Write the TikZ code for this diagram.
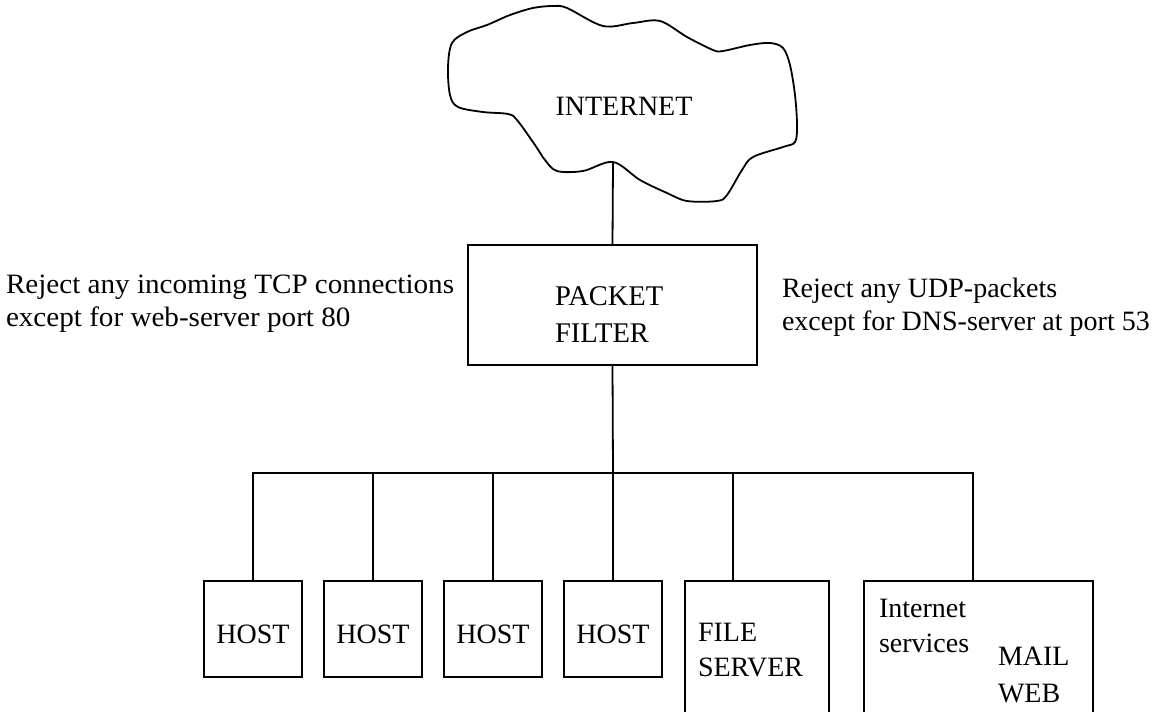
\documentclass[tikz,border=0pt]{standalone}
\usepackage{fontspec}
\setmainfont{Liberation Serif}
\newfontfamily\ruleserif[FakeStretch=1.04]{Liberation Serif}
\begin{document}
\begin{tikzpicture}[x=1pt, y=-1pt, line width=1.8pt,
  every node/.style={inner sep=0pt, outer sep=0pt},
  labeltext/.style={anchor=north west, align=left, font=\fontsize{28}{#1}\selectfont},
  labeltext/.default=35,
  frame/.style={draw, rectangle, anchor=north west},
  hostbox/.style={frame, minimum width=98pt, minimum height=96pt,
    text height=28pt, text depth=0pt, font=\fontsize{28}{33}\selectfont}]
\clip (0,0) rectangle (1163,712);

% the Internet cloud
\draw plot[smooth cycle, tension=0.55] coordinates {
  (553,6) (567,8) (603,26) (633,23) (660,21) (687,37) (713,50) (723,51)
  (750,45) (770,43) (783,48) (790,65) (795,95) (797,125) (795,142) (783,147)
  (753,157) (742,170) (727,195) (717,201) (687,201) (667,193) (640,180)
  (613,162) (583,171) (557,171) (545,160) (535,145) (517,120) (508,114)
  (483,112) (458,107) (450,95) (448,67) (452,43) (467,32) (487,25)
  (510,15) (533,8)};
\node[anchor=base, font=\fontsize{28}{33}\selectfont] (inet) at (624,115) {INTERNET};
\coordinate (cloudfoot) at (613,162);

% packet filter and its rules
\node[frame, minimum width=289pt, minimum height=120pt] (pf) at (468,245) {};
\node[labeltext=37, font=\fontsize{28.5}{37}\selectfont] (pflabel) at (555,287) {PACKET\\FILTER};
\node[labeltext=33, font=\ruleserif\fontsize{28}{33}\selectfont] (tcprule) at (6,275) {Reject any incoming TCP connections\\except for web-server port 80};
\node[labeltext=33] (udprule) at (782,278) {Reject any UDP-packets\\except for DNS-server at port 53};

% hosts and servers
\node[hostbox] (h1) at (204,581) {HOST};
\node[hostbox] (h2) at (324,581) {HOST};
\node[hostbox] (h3) at (444,581) {HOST};
\node[hostbox] (h4) at (564,581) {HOST};
\node[frame, minimum width=144pt, minimum height=160pt] (fs) at (685,581) {};
\node[labeltext=35] (fslabel) at (698,623) {FILE\\SERVER};
\node[frame, minimum width=229pt, minimum height=160pt] (ms) at (864,581) {};
\node[labeltext=35] (mslabel) at (879,599) {Internet\\services};
\node[labeltext=37] (svclabel) at (998,647) {MAIL\\WEB};
\coordinate (fstap) at (733,581);
\coordinate (mstap) at (973,581);

% network wiring
\coordinate (bus) at (613,473);
\draw (cloudfoot) -- (pf.north);
\draw (pf.south) -- (bus);
\draw (h1.north) |- (bus) -| (mstap);
\draw (h2.north) -- (h2.north |- bus);
\draw (h3.north) -- (h3.north |- bus);
\draw (h4.north) -- (bus);
\draw (fstap) -- (fstap |- bus);
\end{tikzpicture}
\end{document}
